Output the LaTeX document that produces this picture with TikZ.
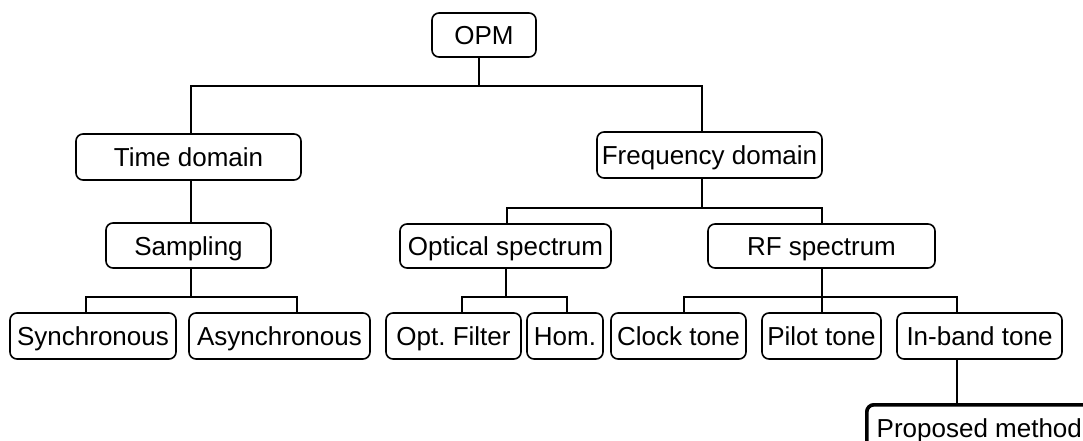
\documentclass[tikz,border=0pt]{standalone}
\usepackage{fontspec}
\setmainfont{Liberation Sans}
\frenchspacing
\begin{document}
\begin{tikzpicture}[x=1pt,y=-1pt,
  box/.style={draw, rounded corners=7pt, line width=1.6pt, inner sep=0pt,
    text height=19pt, text depth=0pt, minimum height=46pt,
    font=\fontsize{26}{30}\selectfont},
  propbox/.style={box, line width=3.6pt},
  conn/.style={line width=2pt},
  bus/.style={line width=2.8pt, line cap=rect}]
\clip (0,0) rectangle (1083,441);
% nodes
\node[box, minimum width=104pt, minimum height=44pt] (opm) at (484,35) {OPM};
\node[box, minimum width=225pt] (time) at (188.5,157) {Time domain};
\node[box, minimum width=225pt] (freq) at (709.5,155) {Frequency domain};
\node[box, minimum width=165pt, minimum height=45pt] (samp) at (188.5,245.5) {Sampling};
\node[box, minimum width=211pt, minimum height=44pt] (opt) at (505.5,246) {Optical spectrum};
\node[box, minimum width=227pt, minimum height=44pt] (rf) at (821.5,246) {RF spectrum};
\node[box, minimum width=166pt] (sync) at (93,336) {Synchronous};
\node[box, minimum width=181pt] (async) at (279.5,336) {Asynchronous};
\node[box, minimum width=135pt] (filt) at (453.5,336) {Opt.\ Filter};
\node[box, minimum width=76pt] (hom) at (565,336) {Hom.};
\node[box, minimum width=135pt] (clock) at (678.5,336) {Clock tone};
\node[box, minimum width=119pt] (pilot) at (821.5,336) {Pilot tone};
\node[box, minimum width=165pt] (inband) at (979.5,336) {In-band tone};
\node[propbox, minimum width=225pt, anchor=north west] (prop) at (865,403) {Proposed method};
% junction coordinates
\coordinate (j0) at (479,86);
\coordinate (j0L) at (191,86);
\coordinate (j0R) at (702,86);
\coordinate (j1) at (191,297);
\coordinate (j1L) at (86,297);
\coordinate (j1R) at (297,297);
\coordinate (j2L) at (507,208);
\coordinate (j2R) at (822,208);
\coordinate (j3) at (506,297);
\coordinate (j3L) at (462,297);
\coordinate (j3R) at (567,297);
\coordinate (j4) at (822,297);
\coordinate (j4L) at (684,297);
\coordinate (j4R) at (957,297);
% OPM level
\draw[conn] (opm.south -| j0) -- (j0);
\draw[bus] (j0L) -- (j0R);
\draw[conn] (j0L) -- (time.north -| j0L);
\draw[conn] (j0R) -- (freq.north -| j0R);
% time domain
\draw[conn] (time.south -| j0L) -- (samp.north -| j0L);
\draw[conn] (samp.south -| j1) -- (j1);
\draw[bus] (j1L) -- (j1R);
\draw[conn] (j1L) -- (sync.north -| j1L);
\draw[conn] (j1R) -- (async.north -| j1R);
% frequency domain
\draw[conn] (freq.south -| j0R) -- (j2L -| j0R);
\draw[bus] (j2L) -- (j2R);
\draw[conn] (j2L) -- (opt.north -| j2L);
\draw[conn] (j2R) -- (rf.north -| j2R);
% optical
\draw[conn] (opt.south -| j3) -- (j3);
\draw[bus] (j3L) -- (j3R);
\draw[conn] (j3L) -- (filt.north -| j3L);
\draw[conn] (j3R) -- (hom.north -| j3R);
% RF
\draw[conn] (rf.south -| j4) -- (j4);
\draw[bus] (j4L) -- (j4R);
\draw[conn] (j4L) -- (clock.north -| j4L);
\draw[conn] (j4) -- (pilot.north -| j4);
\draw[conn] (j4R) -- (inband.north -| j4R);
% in-band to proposed
\draw[conn] (inband.south -| j4R) -- (prop.north -| j4R);
\end{tikzpicture}
\end{document}
